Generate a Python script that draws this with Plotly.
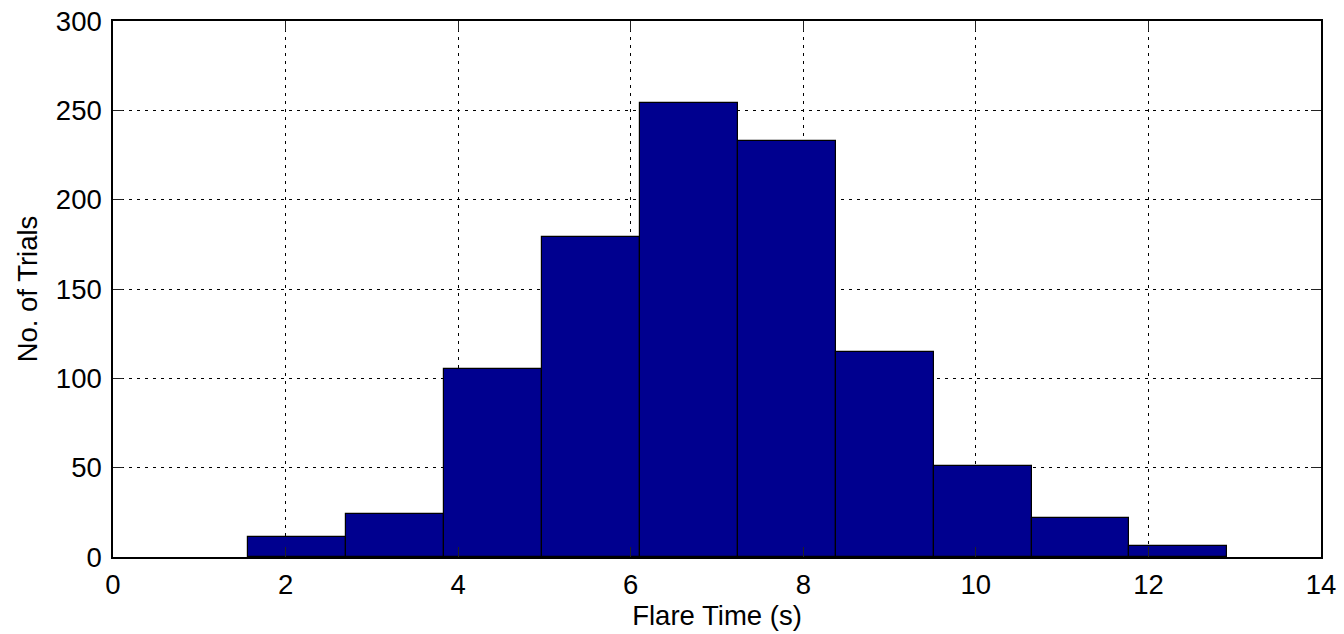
import plotly.graph_objects as go

# Histogram of flare times: bin centres (s) and number of trials per bin
bin_centers = [2.1325, 3.2675, 4.4025, 5.5375, 6.6725, 7.8075, 8.9425, 10.0775, 11.2125, 12.3475]
bin_width = 1.135
trial_counts = [11, 24, 105, 179, 254, 233, 115, 51, 22, 6]

x_ticks = [0, 2, 4, 6, 8, 10, 12, 14]
y_ticks = [0, 50, 100, 150, 200, 250, 300]

FONT = "Liberation Sans, Arial, Helvetica, sans-serif"
FSIZE = 27.5

fig = go.Figure(
    go.Bar(
        x=bin_centers,
        y=trial_counts,
        width=[bin_width] * len(bin_centers),
        marker=dict(color="#00008F", line=dict(color="#000000", width=1.2)),
        hoverinfo="x+y",
    )
)

axis_common = dict(
    showline=True,
    linecolor="#000000",
    linewidth=1.5,
    mirror="ticks",
    ticks="inside",
    ticklen=10,
    tickwidth=1.2,
    tickcolor="#222222",
    showgrid=True,
    gridcolor="#000000",
    gridwidth=1,
    griddash="3px,5px",
    zeroline=False,
    automargin=False,
    tickfont=dict(family=FONT, size=FSIZE, color="#000000"),
)

fig.update_xaxes(
    range=[0, 14],
    tickmode="array",
    tickvals=x_ticks,
    ticklabelstandoff=2,
    title=dict(text="Flare Time (s)", font=dict(family=FONT, size=FSIZE, color="#000000"), standoff=2),
    **axis_common,
)
fig.update_yaxes(
    range=[0, 300],
    tickmode="array",
    tickvals=y_ticks,
    ticklabelstandoff=4,
    title=dict(text="No. of Trials", font=dict(family=FONT, size=FSIZE, color="#000000"), standoff=10),
    **axis_common,
)

fig.update_layout(
    width=1344,
    height=634,
    margin=dict(l=113, r=23, t=21, b=77),
    paper_bgcolor="#ffffff",
    plot_bgcolor="#ffffff",
    showlegend=False,
    bargap=0,
)

fig.write_html("out.html")
